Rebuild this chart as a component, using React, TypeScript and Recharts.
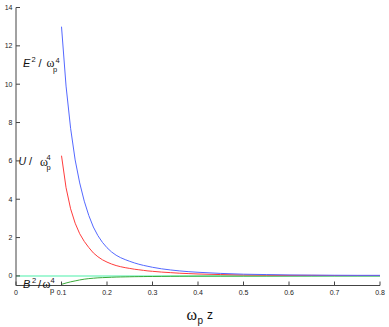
import React from "react";
import { LineChart, Line, XAxis, YAxis } from "recharts";

// energy densities vs omega_p z
const zValues = [
  0.1, 0.11, 0.12, 0.13, 0.14, 0.15, 0.16, 0.17, 0.18, 0.19, 0.2, 0.21, 0.22,
  0.23, 0.24, 0.25, 0.26, 0.27, 0.28, 0.29, 0.3, 0.32, 0.34, 0.36, 0.38, 0.4,
  0.45, 0.5, 0.55, 0.6, 0.65, 0.7, 0.75, 0.8,
];
const eSquared = [
  13.0, 9.9, 7.7, 6.05, 4.85, 3.9, 3.15, 2.55, 2.1, 1.75, 1.47, 1.25, 1.08,
  0.95, 0.85, 0.76, 0.68, 0.61, 0.55, 0.5, 0.45, 0.37, 0.31, 0.26, 0.22, 0.19,
  0.13, 0.09, 0.07, 0.05, 0.04, 0.035, 0.03, 0.03,
];
const uEnergy = [
  6.27, 4.6, 3.5, 2.75, 2.2, 1.8, 1.48, 1.2, 1.0, 0.84, 0.72, 0.62, 0.54,
  0.48, 0.43, 0.39, 0.35, 0.32, 0.29, 0.26, 0.24, 0.2, 0.17, 0.14, 0.12, 0.1,
  0.07, 0.05, 0.04, 0.03, 0.03, 0.02, 0.02, 0.02,
];
const bSquared = [
  -0.44, -0.37, -0.31, -0.26, -0.21, -0.17, -0.14, -0.12, -0.1, -0.09, -0.08,
  -0.07, -0.06, -0.055, -0.05, -0.045, -0.04, -0.037, -0.034, -0.03, -0.03,
  -0.025, -0.02, -0.018, -0.016, -0.015, -0.012, -0.01, -0.008, -0.005,
  -0.003, 0, 0, 0,
];
const zeroLine = [
  { x: 0, y: 0 },
  { x: 0.8, y: 0 },
];

const xTicks = [0, 0.1, 0.2, 0.3, 0.4, 0.5, 0.6, 0.7, 0.8];
const yTicks = [0, 2, 4, 6, 8, 10, 12, 14];

const data = zValues.map((x, i) => ({
  x,
  e: eSquared[i],
  u: uEnergy[i],
  b: bSquared[i],
}));

const W = 389;
const H = 327;
const SANS = "'Liberation Sans', Arial, sans-serif";
const SERIF = "'Liberation Serif', 'Times New Roman', serif";
const axisColor = "#444";
const tickFont = { fontSize: 7, fill: "#222", fontFamily: SANS };

export default function App() {
  return (
    <div style={{ position: "absolute", left: 0, top: 0, width: W, height: H, background: "#fff" }}>
      <LineChart
        width={W}
        height={H}
        data={data}
        margin={{ top: 7.5, right: 9, left: 0, bottom: 0 }}
      >
        <XAxis
          type="number"
          dataKey="x"
          domain={[0, 0.8]}
          ticks={xTicks}
          allowDataOverflow
          height={41.5}
          tickSize={-4}
          tickMargin={8.5}
          tick={tickFont}
          tickFormatter={(v: number) => (v === 0 ? "0" : v.toFixed(1))}
          axisLine={{ stroke: axisColor }}
          tickLine={{ stroke: axisColor }}
        />
        <YAxis
          type="number"
          domain={[-0.5, 14]}
          ticks={yTicks}
          allowDataOverflow
          width={16}
          tickSize={-4}
          tickMargin={7.5}
          tick={tickFont}
          axisLine={{ stroke: axisColor }}
          tickLine={{ stroke: axisColor }}
        />
        <Line
          data={zeroLine}
          dataKey="y"
          type="linear"
          stroke="#86f5c6"
          strokeWidth={1.5}
          dot={false}
          isAnimationActive={false}
        />
        <Line dataKey="b" type="linear" stroke="#3aaa3a" strokeWidth={1} dot={false} isAnimationActive={false} />
        <Line dataKey="u" type="linear" stroke="#ff3c3c" strokeWidth={1} dot={false} isAnimationActive={false} />
        <Line dataKey="e" type="linear" stroke="#5468ff" strokeWidth={1} dot={false} isAnimationActive={false} />
      </LineChart>
      <svg
        width={W}
        height={H}
        style={{ position: "absolute", left: 0, top: 0, pointerEvents: "none" }}
      >
        <g fontFamily={SANS} fill="#111">
          {/* E^2 / omega_p^4 */}
          <text x={23} y={67} fontSize={11} fontStyle="italic">E</text>
          <text x={31.5} y={62} fontSize={7.5}>2</text>
          <text x={38.5} y={67} fontSize={11}>/</text>
          <text x={46.5} y={67} fontSize={12} fontFamily={SERIF}>ω</text>
          <text x={53} y={72} fontSize={7.5}>p</text>
          <text x={55.5} y={62.5} fontSize={7.5}>4</text>

          {/* U / omega_p^4 */}
          <text x={18.5} y={165} fontSize={10.5} fontStyle="italic">U</text>
          <text x={29} y={165} fontSize={11}>/</text>
          <text x={40} y={166} fontSize={12} fontFamily={SERIF}>ω</text>
          <text x={46.5} y={170} fontSize={7.5}>p</text>
          <text x={46.5} y={159.5} fontSize={7.5}>4</text>

          {/* B^2 / omega_p^4 */}
          <text x={23} y={288} fontSize={11} fontStyle="italic">B</text>
          <text x={32} y={283} fontSize={7.5}>2</text>
          <text x={38} y={288} fontSize={11}>/</text>
          <text x={42.5} y={288} fontSize={12} fontFamily={SERIF}>ω</text>
          <text x={50} y={293} fontSize={7.5}>p</text>
          <text x={50.5} y={282.5} fontSize={7.5}>4</text>

          {/* x label: omega_p z */}
          <text x={186.5} y={320} fontSize={16} fontFamily={SERIF}>ω</text>
          <text x={197.5} y={324} fontSize={10}>p</text>
          <text x={207} y={318.5} fontSize={12}>z</text>
        </g>
      </svg>
    </div>
  );
}
